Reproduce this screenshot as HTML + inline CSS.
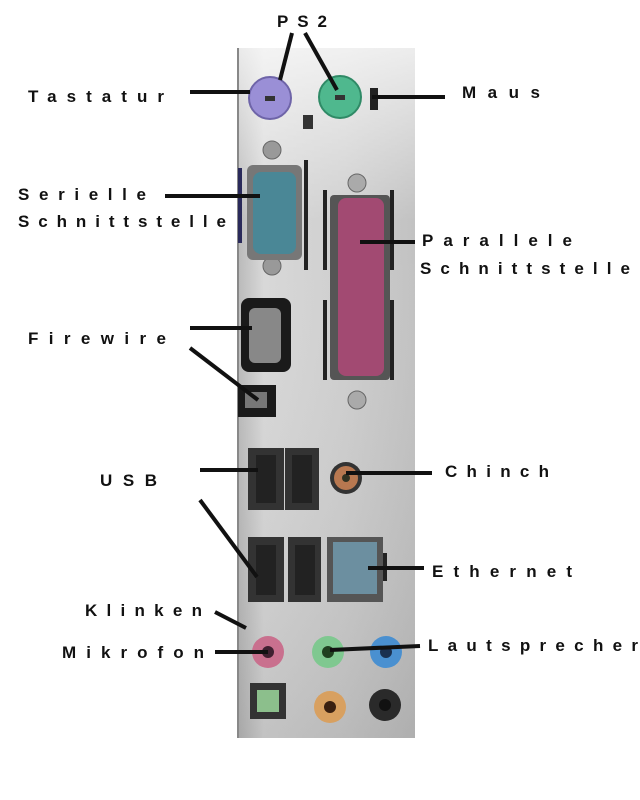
<!DOCTYPE html>
<html><head><meta charset="utf-8"><style>
html,body{margin:0;padding:0;background:#fff;width:640px;height:800px;overflow:hidden}
text{font-family:"Liberation Sans",sans-serif;font-weight:bold;font-size:17px;fill:#111}
</style></head><body>
<svg width="640" height="800" viewBox="0 0 640 800" xmlns="http://www.w3.org/2000/svg">
<defs>
<linearGradient id="pl" x1="0" y1="0" x2="1" y2="0">
<stop offset="0" stop-color="#b8b8b8"/><stop offset="0.15" stop-color="#d8d8d8"/><stop offset="0.6" stop-color="#cfcfcf"/><stop offset="1" stop-color="#c2c2c2"/>
</linearGradient>
<linearGradient id="pv" x1="0" y1="0" x2="0" y2="1">
<stop offset="0" stop-color="#fff" stop-opacity="0.7"/><stop offset="0.25" stop-color="#fff" stop-opacity="0"/><stop offset="1" stop-color="#000" stop-opacity="0.1"/>
</linearGradient>
</defs>
<!-- plate -->
<rect x="237" y="48" width="178" height="690" fill="url(#pl)"/>
<rect x="237" y="48" width="178" height="690" fill="url(#pv)"/>
<line x1="238" y1="48" x2="238" y2="738" stroke="#888" stroke-width="2"/>
<!-- PS2 -->
<circle cx="270" cy="98" r="21" fill="#9a8fd6" stroke="#6e64a8" stroke-width="2"/>
<circle cx="340" cy="97" r="21" fill="#4fb88e" stroke="#2f8a66" stroke-width="2"/>
<rect x="265" y="96" width="10" height="5" fill="#333"/><rect x="335" y="95" width="10" height="5" fill="#333"/>
<rect x="370" y="88" width="8" height="22" fill="#222"/>
<rect x="303" y="115" width="10" height="14" fill="#333"/>
<!-- serial -->
<circle cx="272" cy="150" r="9" fill="#999" stroke="#666"/>
<circle cx="272" cy="266" r="9" fill="#999" stroke="#666"/>
<rect x="238" y="168" width="4" height="75" fill="#2a2a5a"/>
<rect x="247" y="165" width="55" height="95" rx="6" fill="#777"/>
<rect x="253" y="172" width="43" height="82" rx="8" fill="#4a8796"/>
<rect x="304" y="160" width="4" height="110" fill="#222"/>
<!-- parallel -->
<circle cx="357" cy="183" r="9" fill="#aaa" stroke="#666"/>
<circle cx="357" cy="400" r="9" fill="#aaa" stroke="#666"/>
<rect x="323" y="190" width="4" height="80" fill="#222"/><rect x="323" y="300" width="4" height="80" fill="#222"/>
<rect x="390" y="190" width="4" height="80" fill="#222"/><rect x="390" y="300" width="4" height="80" fill="#222"/>
<rect x="330" y="195" width="60" height="185" rx="4" fill="#555"/>
<rect x="338" y="198" width="46" height="178" rx="8" fill="#a24a72"/>
<!-- firewire -->
<rect x="241" y="298" width="50" height="74" rx="8" fill="#1a1a1a"/>
<rect x="249" y="308" width="32" height="55" rx="6" fill="#888"/>
<rect x="238" y="385" width="38" height="32" fill="#1a1a1a"/>
<rect x="245" y="392" width="22" height="16" fill="#777"/>
<!-- USB top -->
<rect x="248" y="448" width="36" height="62" fill="#333"/>
<rect x="285" y="448" width="34" height="62" fill="#333"/>
<rect x="256" y="455" width="20" height="48" fill="#222"/>
<rect x="292" y="455" width="20" height="48" fill="#222"/>
<!-- chinch -->
<circle cx="346" cy="478" r="16" fill="#333"/><circle cx="346" cy="478" r="12" fill="#b87850"/><circle cx="346" cy="478" r="4" fill="#332"/>
<!-- bottom usb + eth -->
<rect x="248" y="537" width="36" height="65" fill="#333"/>
<rect x="288" y="537" width="33" height="65" fill="#333"/>
<rect x="256" y="545" width="20" height="50" fill="#222"/>
<rect x="295" y="545" width="20" height="50" fill="#222"/>
<rect x="327" y="537" width="56" height="65" fill="#555"/>
<rect x="333" y="542" width="44" height="52" fill="#6c8fa0"/>
<rect x="383" y="553" width="4" height="28" fill="#222"/>
<!-- audio -->
<circle cx="268" cy="652" r="16" fill="#c9708e"/><circle cx="268" cy="652" r="6" fill="#402030"/>
<circle cx="328" cy="652" r="16" fill="#7fc890"/><circle cx="328" cy="652" r="6" fill="#204020"/>
<circle cx="386" cy="652" r="16" fill="#4a90d0"/><circle cx="386" cy="652" r="6" fill="#1a3050"/>
<rect x="250" y="683" width="36" height="36" fill="#333"/><rect x="257" y="690" width="22" height="22" fill="#8cbf8c"/>
<circle cx="330" cy="707" r="16" fill="#d8a060"/><circle cx="330" cy="707" r="6" fill="#3a2010"/>
<circle cx="385" cy="705" r="16" fill="#2a2a2a"/><circle cx="385" cy="705" r="6" fill="#111"/>
<!-- connector lines -->
<g stroke="#111" stroke-width="4" fill="none">
<line x1="292" y1="33" x2="280" y2="80"/>
<line x1="305" y1="33" x2="337" y2="90"/>
<line x1="190" y1="92" x2="250" y2="92"/>
<line x1="372" y1="97" x2="445" y2="97"/>
<line x1="165" y1="196" x2="260" y2="196"/>
<line x1="360" y1="242" x2="415" y2="242"/>
<line x1="190" y1="328" x2="252" y2="328"/>
<line x1="190" y1="348" x2="258" y2="400"/>
<line x1="200" y1="470" x2="258" y2="470"/>
<line x1="200" y1="500" x2="257" y2="577"/>
<line x1="346" y1="473" x2="432" y2="473"/>
<line x1="368" y1="568" x2="424" y2="568"/>
<line x1="215" y1="612" x2="246" y2="628"/>
<line x1="215" y1="652" x2="268" y2="652"/>
<line x1="330" y1="650" x2="420" y2="646"/>
</g>
<!-- labels -->
<text x="277" y="27" textLength="50" lengthAdjust="spacing">PS2</text>
<text x="28" y="102" textLength="136" lengthAdjust="spacing">Tastatur</text>
<text x="462" y="98" textLength="78" lengthAdjust="spacing">Maus</text>
<text x="18" y="200" textLength="128" lengthAdjust="spacing">Serielle</text>
<text x="18" y="227" textLength="208" lengthAdjust="spacing">Schnittstelle</text>
<text x="422" y="246" textLength="150" lengthAdjust="spacing">Parallele</text>
<text x="420" y="274" textLength="210" lengthAdjust="spacing">Schnittstelle</text>
<text x="28" y="344" textLength="138" lengthAdjust="spacing">Firewire</text>
<text x="100" y="486" textLength="57" lengthAdjust="spacing">USB</text>
<text x="445" y="477" textLength="104" lengthAdjust="spacing">Chinch</text>
<text x="432" y="577" textLength="140" lengthAdjust="spacing">Ethernet</text>
<text x="85" y="616" textLength="117" lengthAdjust="spacing">Klinken</text>
<text x="62" y="658" textLength="142" lengthAdjust="spacing">Mikrofon</text>
<text x="428" y="651" textLength="210" lengthAdjust="spacing">Lautsprecher</text>
</svg>
</body></html>
